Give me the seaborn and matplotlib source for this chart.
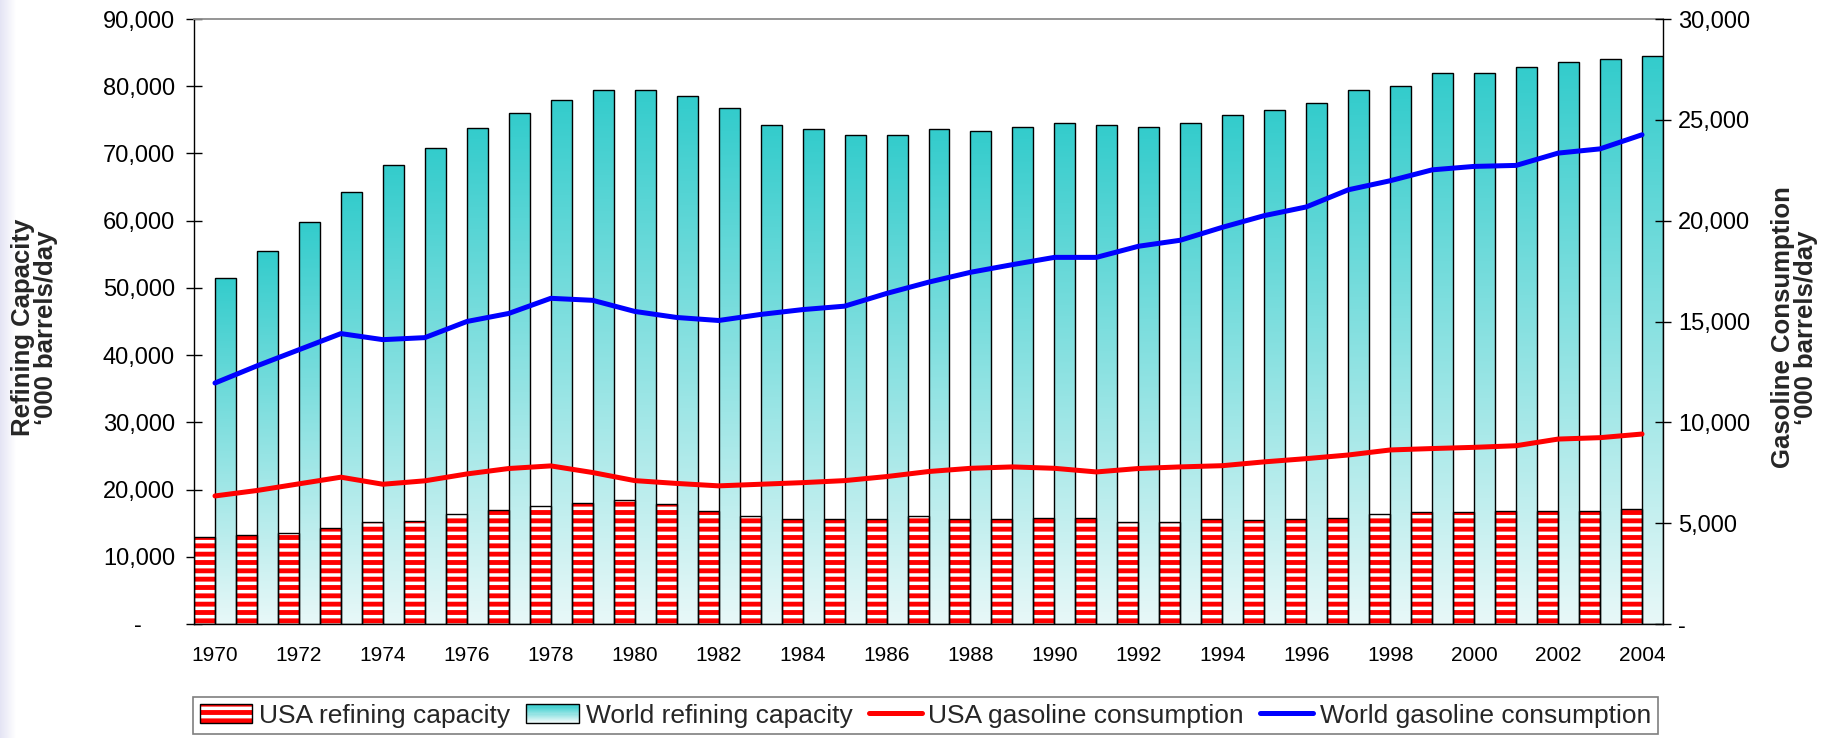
import numpy as np
import pandas as pd
import matplotlib
matplotlib.use("Agg")
import matplotlib.pyplot as plt
import seaborn as sns
from matplotlib.patches import Rectangle
from matplotlib.lines import Line2D
from matplotlib.colors import LinearSegmentedColormap
from matplotlib.legend_handler import HandlerBase
from matplotlib.ticker import FuncFormatter

# ---- data ('000 barrels/day) ----
years = [1970, 1971, 1972, 1973, 1974, 1975, 1976, 1977, 1978, 1979,
         1980, 1981, 1982, 1983, 1984, 1985, 1986, 1987, 1988, 1989,
         1990, 1991, 1992, 1993, 1994, 1995, 1996, 1997, 1998, 1999,
         2000, 2001, 2002, 2003, 2004]

usa_capacity = [12900, 13300, 13500, 14300, 15100, 15300, 16300, 17000, 17600, 18000,
                18500, 17800, 16800, 16100, 15600, 15600, 15600, 16100, 15600, 15600,
                15800, 15800, 15200, 15200, 15600, 15400, 15600, 15800, 16300, 16600,
                16600, 16800, 16800, 16800, 17100]

world_capacity = [51500, 55500, 59800, 64300, 68300, 70800, 73800, 76000, 78000, 79500,
                  79500, 78500, 76800, 74300, 73600, 72800, 72800, 73600, 73300, 73900,
                  74600, 74300, 73900, 74600, 75700, 76500, 77500, 79400, 80000, 82000,
                  82000, 82800, 83600, 84100, 84500]

usa_gasoline = [6350, 6620, 6950, 7280, 6930, 7100, 7440, 7710, 7840, 7510,
                7110, 6970, 6850, 6930, 7010, 7110, 7310, 7560, 7720, 7790,
                7720, 7540, 7710, 7790, 7850, 8040, 8200, 8380, 8630, 8700,
                8760, 8840, 9170, 9240, 9420]

world_gasoline = [11950, 12800, 13600, 14400, 14100, 14200, 15000, 15400, 16150, 16050,
                  15500, 15200, 15050, 15350, 15590, 15760, 16390, 16950, 17440, 17820,
                  18180, 18180, 18730, 19030, 19670, 20250, 20680, 21530, 21980, 22520,
                  22690, 22740, 23350, 23560, 24260]

series_names = ["USA refining capacity", "World refining capacity",
                "USA gasoline consumption", "World gasoline consumption"]

capacity_ticks = [0, 10000, 20000, 30000, 40000, 50000, 60000, 70000, 80000, 90000]
gasoline_ticks = [0, 5000, 10000, 15000, 20000, 25000, 30000]

# ---- style ----
sns.set_style("white")
plt.rcParams["font.family"] = ["Liberation Sans", "DejaVu Sans"]
plt.rcParams["hatch.linewidth"] = 3.5

TEAL_TOP = "#33CCCC"
TEAL_BOTTOM = "#E8F8F8"
USA_RED = "#FF0000"
WORLD_BLUE = "#0000FF"
teal_cmap = LinearSegmentedColormap.from_list("teal_fade", [TEAL_BOTTOM, TEAL_TOP])

W, H = 1839, 738
fig = plt.figure(figsize=(W / 100, H / 100), dpi=100)
fig.patch.set_facecolor("white")

# faint lavender fade along the left edge of the slide
edge_ax = fig.add_axes([0, 0, 16 / W, 1], zorder=-5)
edge_ax.imshow(np.linspace(0, 1, 64).reshape(1, -1),
               cmap=LinearSegmentedColormap.from_list("edge", ["#E4E4F4", "#FFFFFF"]),
               aspect="auto", extent=(0, 1, 0, 1))
edge_ax.axis("off")

ax = fig.add_axes([194 / W, 1 - 624 / H, (1663 - 194) / W, (624 - 19) / H])

# ---- bars: USA (striped) and World (gradient), side by side per year ----
bars = pd.DataFrame({
    "year": years * 2,
    "series": [series_names[0]] * len(years) + [series_names[1]] * len(years),
    "capacity": usa_capacity + world_capacity,
})
sns.barplot(data=bars, x="year", y="capacity", hue="series",
            hue_order=series_names[:2], palette=["white", TEAL_TOP],
            width=1.0, gap=0, dodge=True, edgecolor="black", linewidth=1.0,
            errorbar=None, legend=False, ax=ax)

usa_bars, world_bars = ax.containers[0], ax.containers[1]

for p in usa_bars:
    x0, y0 = p.get_xy()
    stripes = Rectangle((x0, y0), p.get_width(), p.get_height(),
                        facecolor="white", edgecolor=USA_RED, hatch="--",
                        linewidth=0, zorder=p.get_zorder() - 0.1)
    ax.add_patch(stripes)
    p.set_facecolor("none")

grad = np.linspace(0, 1, 256).reshape(-1, 1)
for p in world_bars:
    x0, y0 = p.get_xy()
    im = ax.imshow(grad, cmap=teal_cmap, origin="lower", aspect="auto",
                   interpolation="bilinear",
                   extent=(x0, x0 + p.get_width(), y0, y0 + p.get_height()),
                   zorder=p.get_zorder() - 0.1)
    im.set_clip_path(p)
    p.set_facecolor("none")

# ---- lines on the secondary axis ----
ax2 = ax.twinx()
positions = np.arange(len(years))
sns.lineplot(x=positions, y=usa_gasoline, ax=ax2, color=USA_RED, linewidth=3.6,
             solid_capstyle="round", solid_joinstyle="round")
sns.lineplot(x=positions, y=world_gasoline, ax=ax2, color=WORLD_BLUE, linewidth=3.6,
             solid_capstyle="round", solid_joinstyle="round")

# ---- axes, ticks, labels ----
ax.set_xlim(-0.5, len(years) - 0.5)
ax2.set_xlim(-0.5, len(years) - 0.5)
ax.set_ylim(capacity_ticks[0], capacity_ticks[-1])
ax2.set_ylim(gasoline_ticks[0], gasoline_ticks[-1])

ax.set_xticks(positions[::2], labels=[str(y) for y in years[::2]])
ax.set_xticks(np.arange(len(years) + 1) - 0.5, minor=True)
ax.tick_params(axis="x", which="major", length=0, pad=16, labelsize=15, colors="black")
ax.tick_params(axis="x", which="minor", length=5.5, width=1, direction="out", color="black")
ax.set_xlabel("")

ax.set_yticks(capacity_ticks)
ax.yaxis.set_major_formatter(FuncFormatter(
    lambda v, _: f"{v:,.0f}" if v else "-\u2007\u2007\u2008"))
ax.tick_params(axis="y", direction="inout", length=11.5, width=1, pad=8,
               labelsize=17, colors="black")

ax2.set_yticks(gasoline_ticks)
ax2.yaxis.set_major_formatter(FuncFormatter(lambda v, _: f"{v:,.0f}" if v else "-"))
ax2.tick_params(axis="y", direction="inout", length=11.5, width=1, pad=5,
                labelsize=17, colors="black")

for name, sp in ax.spines.items():
    sp.set_color("black")
    sp.set_linewidth(1.0)
ax.spines["top"].set_color("#8C8C8C")
ax.spines["top"].set_linewidth(1.3)
ax.spines["right"].set_visible(False)
for name in ("top", "left", "bottom"):
    ax2.spines[name].set_visible(False)
ax2.spines["right"].set_color("black")
ax2.spines["right"].set_linewidth(1.0)
ax.grid(False)
ax2.grid(False)

ax.set_ylabel("Refining Capacity\n\u2018000 barrels/day", fontsize=18.5,
              fontweight="bold", linespacing=0.95)
ax.yaxis.set_label_coords(-0.0926, 0.49)
ax2.set_ylabel("Gasoline Consumption\n\u2018000 barrels/day", fontsize=18.5,
               fontweight="bold", linespacing=0.95)
ax2.yaxis.set_label_coords(1.0735, 0.49)


# ---- legend ----
class StripedHandler(HandlerBase):
    def create_artists(self, legend, orig_handle, xdescent, ydescent,
                       width, height, fontsize, trans):
        fill = Rectangle((-xdescent, -ydescent), width, height, facecolor="white",
                         edgecolor=USA_RED, hatch="--", linewidth=0, transform=trans)
        outline = Rectangle((-xdescent, -ydescent), width, height, fill=False,
                            edgecolor="black", linewidth=1.0, transform=trans)
        return [fill, outline]


class GradientHandler(HandlerBase):
    def create_artists(self, legend, orig_handle, xdescent, ydescent,
                       width, height, fontsize, trans):
        n = 16
        artists = []
        for i in range(n):
            artists.append(Rectangle((-xdescent, -ydescent + height * i / n), width,
                                     height / n, facecolor=teal_cmap(i / (n - 1)),
                                     edgecolor="none", linewidth=0, transform=trans))
        artists.append(Rectangle((-xdescent, -ydescent), width, height, fill=False,
                                 edgecolor="black", linewidth=1.0, transform=trans))
        return artists


usa_handle = Rectangle((0, 0), 1, 1)
world_handle = Rectangle((0, 0), 1, 1)
handles = [usa_handle, world_handle,
           Line2D([], [], color=USA_RED, linewidth=3.6, solid_capstyle="round"),
           Line2D([], [], color=WORLD_BLUE, linewidth=3.6, solid_capstyle="round")]
leg = fig.legend(handles, series_names, loc="upper left",
                 bbox_to_anchor=(193 / W, 1 - 697 / H), bbox_transform=fig.transFigure,
                 ncol=4, fontsize=19, frameon=True, fancybox=False, shadow=False,
                 framealpha=1, edgecolor="#7F7F7F", borderpad=0.25, borderaxespad=0,
                 handlelength=2.0, handletextpad=0.25, columnspacing=0.62,
                 handler_map={usa_handle: StripedHandler(), world_handle: GradientHandler()})
leg.get_frame().set_linewidth(1.2)

fig.savefig("out.png", dpi=100, facecolor="white")
